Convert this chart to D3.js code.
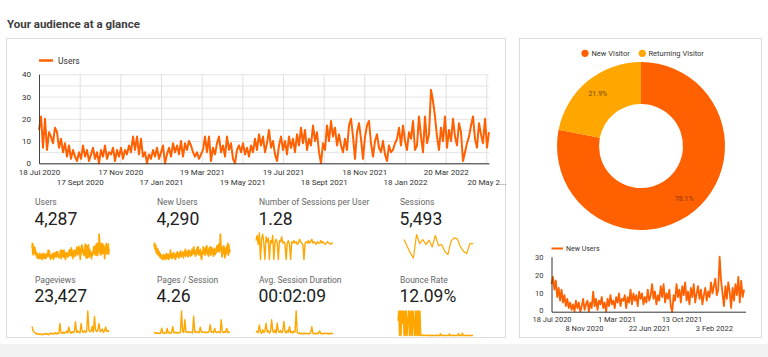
<!DOCTYPE html>
<html><head><meta charset="utf-8">
<script src="https://cdn.jsdelivr.net/npm/d3@7"></script>
<style>
html,body{margin:0;padding:0;background:#fff;}
svg{display:block;font-family:Roboto,"Noto Sans",sans-serif;}
</style></head><body>
<svg id="c" width="768" height="357"></svg>
<script>
// ---------------- DATA ----------------
const title = "Your audience at a glance";
const usersStartDate = "2020-07-18";
const usersStepDays = 3;
const users = [
15,21,7,20,6,14,12,9,16,14,
7,11,5,9,3,8,2,6,3,1,
5,2,8,3,6,1,4,7,2,5,
0,6,3,8,2,5,4,7,1,6,
3,7,2,6,4,8,5,12,6,12,
4,11,3,5,0,4,2,6,3,7,
2,5,8,0,4,7,3,9,5,8,
4,10,3,9,6,10,
8,5,3,5,2,4,6,12,5,12,1,7,4,9,12,5,8,3,12,6,9,2,0,6,8,5,9,4,7,3,8,5,11,6,13,8,12,5,9,15,7,10,4,1,8,12,6,10,4,12,7,11,5,13,8,16,9,15,6,11,8,17,10,14,5,0,9,6,17,10,19,12,16,8,
13,8,5,11,6,17,20,12,2,14,18,11,2,12,17,19,9,3,10,13,7,5,10,4,1,8,5,6,9,11,16,8,17,10,6,14,11,19,6,8,21,12,5,21,9,13,33,28,21,12,6,16,10,21,7,15,10,20,12,8,18,14,1,5,9,12,17,21,11,7,18,13,9,20,7,14
];
const usersTickDates = ["2020-07-18","2020-09-17","2020-11-17","2021-01-17","2021-03-19","2021-05-19","2021-07-19","2021-09-18","2021-11-18","2022-01-18","2022-03-20","2022-05-20"];
const usersTickLabels = ["18 Jul 2020","17 Sept 2020","17 Nov 2020","17 Jan 2021","19 Mar 2021","19 May 2021","19 Jul 2021","18 Sept 2021","18 Nov 2021","18 Jan 2022","20 Mar 2022","20 May 2..."];
const usersYTicks = [0,10,20,30,40];
const usersYGrid = [0,5,10,15,20,25,30,35,40];

const newUsersStepDays = 5;
const newUsers = [
15,19,12,17,8,13,6,12,5,9,
3,7,2,5,1,4,0,6,2,5,
0,3,7,1,4,6,0,5,2,11,
3,7,1,6,4,8,2,5,0,7,
3,9,4,6,2,8,5,10,3,7,
6,9,2,8,5,12,4,10,6,9,
3,11,7,10,4,8,5,12,6,9,
15,7,11,4,9,6,14,8,15,5,
10,7,12,3,0,9,6,15,8,12,
5,14,9,16,6,11,4,13,8,15,
5,10,14,7,12,4,9,13,6,11,
8,16,10,14,18,9,12,30,17,10,
3,14,7,16,11,2,13,6,15,9,
19,5,17,8,12
];
const newUsersTickDates = ["2020-07-18","2020-11-08","2021-03-01","2021-06-22","2021-10-13","2022-02-03"];
const newUsersTickLabels = ["18 Jul 2020","8 Nov 2020","1 Mar 2021","22 Jun 2021","13 Oct 2021","3 Feb 2022"];
const newUsersYTicks = [0,10,20,30];

const kpiLabels = ["Users","New Users","Number of Sessions per User","Sessions","Pageviews","Pages / Session","Avg. Session Duration","Bounce Rate"];
const kpiValues = ["4,287","4,290","1.28","5,493","23,427","4.26","00:02:09","12.09%"];

const sparkSessionsPerUser = [
1.5,1.9,1.2,2.1,0,1.6,2.0,1.3,0,1.8,
1.4,1.7,0,1.5,1.3,1.9,0,1.4,1.6,1.3,
0,1.5,1.4,1.8,1.3,1.4,1.2,0,1.3,1.5,
1.2,0,1.4,1.3,1.5,1.3,1.4,1.2,1.3,1.6,
1.4,1.3,1.2,0,1.3,1.4,1.3,1.5,1.3,1.4,
1.6,1.3,1.4,1.3,1.2,1.4,1.3,1.3,1.5,1.3,
1.4,1.3,1.2,1.3,1.4,1.3,1.3,1.2,1.3,1.3];
const sparkSessions = [324,250,176,120,380,280,324,269,317,243,369,257,269,194,157,306,343,332,243,194,168,280,280];
const sparkPageviews = [
38,22,15,12,8,10,6,9,7,5,
8,6,10,7,9,5,11,8,12,7,
10,14,8,12,9,50,13,10,16,11,
14,20,12,35,15,11,18,13,17,57,
14,20,16,12,50,18,15,22,14,19,
100,24,17,20,38,16,78,22,18,25,
50,17,21,28,15,20,36,18,22,16];
const sparkPagesPerSession = [
12,14,10,13,9,12,11,31,13,10,
14,11,30,12,15,10,13,37,14,12,
16,11,14,13,15,100,18,14,65,16,
13,18,15,14,17,12,79,16,14,18,
15,13,35,16,14,17,15,13,16,14,
18,45,15,17,13,30,16,14,17,15,
13,65,16,14,17,15,30,14,16,13];
const sparkAvgDuration = [
15,20,12,44,18,10,25,14,20,51,
16,22,12,18,65,20,14,24,12,51,
18,15,22,13,20,58,16,12,22,15,
37,14,18,12,20,16,100,14,10,12,
9,11,8,12,10,9,11,8,10,12,
37,10,9,11,8,12,10,20,9,11,
8,10,12,9,11,10,8,12,9,10];
const sparkBounceRate = [
60,100,0,100,0,100,50,100,0,100,0,100,0,67,100,0,100,0,100,0,100,50,0,100,0,100,0,100,0,100,0,
2,0,1,0,0,2,0,1,0,0,1,0,0,0,1,0,0,0,0,0,1,0,0,0,0,8,0,0,1,0,0,0,0,0,0,0,0,7,0,0,0,1,0,0,0,0,0,0,0,8,0,0,0,0,10,0,0,0,0,0,0,1,0,0,0,0,0,0,0];

const visitorTypes = ["New Visitor","Returning Visitor"];
const visitorShares = [78.1, 21.9];
const visitorColors = ["#FF6000","#FFA600"];

// ---------------- DRAW ----------------
const ORANGE = "#FF6000", AMBER = "#FFA600";
const svg = d3.select("#c");
const parse = d3.timeParse("%Y-%m-%d");

svg.append("rect").attr("x",0).attr("y",344).attr("width",768).attr("height",13).attr("fill","#f2f2f2");
svg.append("text").attr("x",7).attr("y",28).text(title)
  .attr("font-size",11.5).attr("font-weight",700).attr("fill","#3d3d3d");

svg.append("rect").attr("x",6.5).attr("y",38.5).attr("width",499).attr("height",299)
  .attr("fill","#fff").attr("stroke","#dcdcdc");
svg.append("rect").attr("x",519.5).attr("y",38.5).attr("width",242).attr("height",299)
  .attr("fill","#fff").attr("stroke","#dcdcdc");

// ---- main users chart
(function(){
  const start = parse(usersStartDate);
  const dates = users.map((v,i)=>d3.timeDay.offset(start, i*usersStepDays));
  const x = d3.scaleTime().domain([start, dates[dates.length-1]]).range([39,489]);
  const y = d3.scaleLinear().domain([0,40]).range([163.3,74.3]);
  const tDates = usersTickDates.map(parse);
  const g = svg.append("g");
  g.append("g").attr("transform","translate(39,0)")
    .call(d3.axisLeft(y).tickValues(usersYGrid).tickSize(-450).tickFormat(""))
    .call(s=>{s.select(".domain").remove(); s.selectAll("line").attr("stroke","#e4e4e4");});
  g.append("g").attr("transform","translate(0,163.3)")
    .call(d3.axisBottom(x).tickValues(tDates).tickSize(-89).tickFormat(""))
    .call(s=>{s.select(".domain").remove(); s.selectAll("line").attr("stroke","#e0e0e0");});
  g.append("path").datum(users)
    .attr("d", d3.line().x((d,i)=>x(dates[i])).y(d=>y(d)))
    .attr("fill","none").attr("stroke",ORANGE).attr("stroke-width",2).attr("stroke-linejoin","round");
  g.append("g").attr("transform","translate(39,0)")
    .call(d3.axisLeft(y).tickValues(usersYTicks).tickSize(0).tickPadding(8).tickSizeOuter(0))
    .call(s=>{s.select(".domain").attr("stroke","#444");
      s.selectAll("text").attr("font-size",8).attr("fill","#333").attr("font-family","Roboto");});
  g.append("g").attr("transform","translate(0,163.3)")
    .call(d3.axisBottom(x).tickValues(tDates).tickSize(0).tickPadding(6).tickSizeOuter(0)
      .tickFormat((d,i)=>usersTickLabels[i]))
    .call(s=>{s.select(".domain").attr("stroke","#333");
      s.selectAll("text").attr("font-size",8).attr("fill","#333").attr("font-family","Roboto")
        .attr("dy",(d,i)=> i%2 ? "1.96em" : "0.71em");});
  g.append("line").attr("x1",39).attr("x2",53).attr("y1",60.5).attr("y2",60.5)
    .attr("stroke",ORANGE).attr("stroke-width",2.5);
  g.append("text").attr("x",58).attr("y",63.5).text("Users").attr("font-size",8.5).attr("fill","#333");
})();

// ---- KPI cards
const colX = [35,157,259,400];
const labY = [205,282.5], valY = [224.5,301.5];
kpiLabels.forEach((lab,i)=>{
  const c = i%4, r = Math.floor(i/4);
  svg.append("text").attr("x",colX[c]).attr("y",labY[r]).text(lab)
    .attr("font-size",8.5).attr("fill","#666");
  svg.append("text").attr("x",colX[c]-0.5).attr("y",valY[r]).text(kpiValues[i])
    .attr("font-size",17.5).attr("fill","#212121");
});

function spark(data, x0, x1, y0, y1, opts){
  opts = opts||{};
  const x = d3.scaleLinear().domain([0,data.length-1]).range([x0,x1]);
  const dom = opts.extent ? d3.extent(data) : [0, d3.max(data)];
  const y = d3.scaleLinear().domain(dom).range([y1,y0]);
  svg.append("path").datum(data)
    .attr("d", d3.line().x((d,i)=>x(i)).y(d=>y(d)))
    .attr("fill","none").attr("stroke",AMBER).attr("stroke-width",opts.w||1.5)
    .attr("stroke-linejoin","round");
}
spark(users, 32,109, 234,259.5, {w:1.6});
spark(newUsers, 154,230, 234,259.5, {w:1.7});
spark(sparkSessionsPerUser, 256,333, 233,259.5, {w:1.4});
spark(sparkSessions, 404,473, 234.5,258, {extent:true, w:1.2});
spark(sparkPageviews, 32,109, 311,336, {w:1.4});
spark(sparkPagesPerSession, 154,230, 311,336, {w:1.4});
spark(sparkAvgDuration, 256,333, 311,336, {w:1.4});
spark(sparkBounceRate, 398,473, 311,335.5, {w:1.4});

// ---- donut
(function(){
  const cx=641, cy=146;
  const pie = d3.pie().sort(null).value(d=>d)(visitorShares);
  const arc = d3.arc().innerRadius(42).outerRadius(84);
  const lab = d3.arc().innerRadius(68).outerRadius(68);
  const g = svg.append("g").attr("transform",`translate(${cx},${cy})`);
  g.selectAll("path").data(pie).join("path").attr("d",arc).attr("fill",(d,i)=>visitorColors[i]);
  g.selectAll("text").data(pie).join("text")
    .attr("transform",d=>`translate(${lab.centroid(d)})`)
    .attr("text-anchor","middle").attr("dy","0.35em")
    .attr("font-size",7).attr("fill",(d,i)=> i? "#7a4a0a":"#8a3a06")
    .text((d,i)=>visitorShares[i].toFixed(1)+"%");
  const lx=[585,642.3], tx=[591.5,648.5];
  visitorTypes.forEach((t,i)=>{
    svg.append("circle").attr("cx",lx[i]).attr("cy",53.3).attr("r",3.6).attr("fill",visitorColors[i]);
    svg.append("text").attr("x",tx[i]).attr("y",56).text(t).attr("font-size",7.5).attr("fill","#333");
  });
})();

// ---- new users chart
(function(){
  const start = parse(usersStartDate);
  const dates = newUsers.map((v,i)=>d3.timeDay.offset(start, i*newUsersStepDays));
  const x = d3.scaleTime().domain([start, d3.timeDay.offset(start,675)]).range([551.5,745.5]);
  const y = d3.scaleLinear().domain([0,30]).range([311.7,256.7]);
  const g = svg.append("g");
  g.append("path").datum(newUsers)
    .attr("d", d3.line().x((d,i)=>x(dates[i])).y(d=>y(d)))
    .attr("fill","none").attr("stroke",ORANGE).attr("stroke-width",1.8).attr("stroke-linejoin","round");
  g.append("g").attr("transform","translate(551.5,0)")
    .call(d3.axisLeft(y).tickValues(newUsersYTicks).tickSize(0).tickPadding(8).tickSizeOuter(0))
    .call(s=>{s.select(".domain").attr("stroke","#333");
      s.selectAll("text").attr("font-size",7.5).attr("fill","#333").attr("font-family","Roboto")
        .attr("dy",(d)=> d===0 ? "0.1em" : "0.32em");});
  g.append("g").attr("transform","translate(0,311.7)")
    .call(d3.axisBottom(x).tickValues(newUsersTickDates.map(parse)).tickSize(0).tickPadding(4.5).tickSizeOuter(0)
      .tickFormat((d,i)=>newUsersTickLabels[i]))
    .call(s=>{s.select(".domain").attr("stroke","#333");
      s.selectAll("text").attr("font-size",7.5).attr("fill","#333").attr("font-family","Roboto")
        .attr("dy",(d,i)=> i%2 ? "1.95em" : "0.71em");});
  g.append("line").attr("x1",551.5).attr("x2",563).attr("y1",248.5).attr("y2",248.5)
    .attr("stroke",ORANGE).attr("stroke-width",2);
  g.append("text").attr("x",566).attr("y",251).text("New Users").attr("font-size",7).attr("fill","#333");
})();
</script>
</body></html>
